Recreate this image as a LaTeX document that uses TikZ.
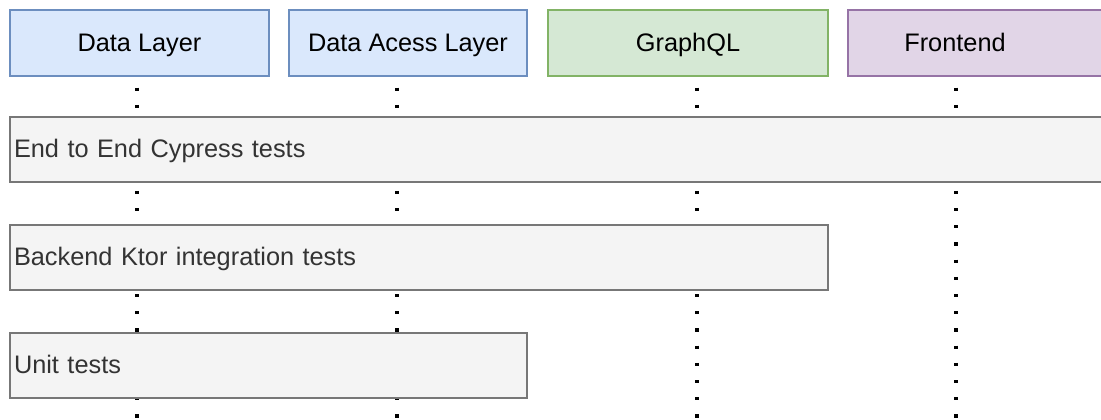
\documentclass[tikz,border=0pt]{standalone}
\usepackage{fontspec}
\setmainfont{Liberation Sans}
\definecolor{blueF}{HTML}{DAE8FC}
\definecolor{blueD}{HTML}{6C8EBF}
\definecolor{greenF}{HTML}{D5E8D4}
\definecolor{greenD}{HTML}{82B366}
\definecolor{purpF}{HTML}{E1D5E7}
\definecolor{purpD}{HTML}{9673A6}
\definecolor{greyF}{HTML}{F4F4F4}
\definecolor{greyD}{HTML}{777777}
\definecolor{greyT}{HTML}{333333}
\tikzset{
  box/.style={rectangle, inner sep=0pt, outer sep=0pt, line width=1.3pt,
     minimum height=49.5pt, text height=16pt, text depth=4pt,
     font=\fontsize{19}{22}\selectfont},
  bluebox/.style={box, fill=blueF, draw=blueD},
  greenbox/.style={box, fill=greenF, draw=greenD},
  purplebox/.style={box, fill=purpF, draw=purpD},
  testbox/.style={box, fill=greyF, draw=greyD, text=greyT, align=left,
     inner xsep=3pt, anchor=west, minimum height=48.75pt},
  lifeline/.style={line width=2.4pt, dash pattern=on 2.4pt off 10.5pt,
     dash phase=4.2pt, line cap=butt}
}
\begin{document}
\begin{tikzpicture}[x=0.75pt, y=-0.75pt]
\useasboundingbox (0,0) rectangle (1101,419);
\clip (0,0) rectangle (1101,419);
% lifeline end points
\coordinate (l1t) at (137,76);  \coordinate (l1b) at (137,419);
\coordinate (l2t) at (397,76);  \coordinate (l2b) at (397,419);
\coordinate (l3t) at (697,76);  \coordinate (l3b) at (697,419);
\coordinate (l4t) at (956,76);  \coordinate (l4b) at (956,419);
\draw[lifeline] (l1t) -- (l1b);
\draw[lifeline] (l2t) -- (l2b);
\draw[lifeline] (l3t) -- (l3b);
\draw[lifeline] (l4t) -- (l4b);
% top boxes
\node[bluebox, minimum width=194.25pt] (dl) at (139.5,43) {Data Layer};
\node[bluebox, minimum width=178.5pt] (dal) at (408,43) {Data Acess Layer};
\node[greenbox, minimum width=210pt] (gql) at (688,43) {GraphQL};
\node[purplebox, minimum width=196.5pt] (fe) at (979,43) {\kern-36pt Frontend};
% test boxes
\node[testbox, text width=819pt] (e2e) at (10,149.5) {End to End Cypress tests};
\node[testbox, text width=607.5pt] (ktor) at (10,257.5) {Backend Ktor integration tests};
\node[testbox, text width=381.75pt] (unit) at (10,365.5) {Unit tests};
\end{tikzpicture}
\end{document}
